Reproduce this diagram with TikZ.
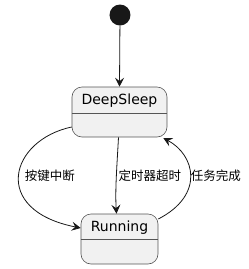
\documentclass[tikz,border=0pt]{standalone}
\usepackage{fontspec}
\setmainfont{DejaVu Sans}
\newfontfamily\cjk{Noto Sans CJK SC}
\usetikzlibrary{arrows.meta,calc}
\definecolor{boxfill}{HTML}{F1F1F1}
\definecolor{boxline}{HTML}{555555}
\definecolor{ink}{HTML}{181818}
\tikzset{
  statebox/.style={draw=boxline,fill=boxfill,rounded corners=10pt,minimum width=95pt,minimum height=50pt,inner sep=0pt,line width=0.6pt},
  runbox/.style={statebox,minimum width=77pt},
  stname/.style={font=\fontsize{14}{16}\selectfont,text=black,inner sep=0pt},
  lbl/.style={font=\cjk\fontsize{12.5}{14}\selectfont,text=black,inner sep=0pt},
  tr/.style={draw=ink,line width=0.8pt,-{Stealth[length=9pt,width=9pt,inset=3.5pt]}}
}
\begin{document}
\begin{tikzpicture}[x=1pt,y=-1pt]
\useasboundingbox (0,0) rectangle (249,269);
\node[circle,fill=ink,minimum size=21pt,inner sep=0pt] (init) at (120,15) {};
\node[statebox] (ds) at (119.5,112) {};
\draw[boxline,line width=0.6pt] ($(ds.west)+(0,1)$) -- ($(ds.east)+(0,1)$);
\node[stname] (dst) at (119.5,101) {DeepSleep};
\node[runbox] (run) at (119.5,239) {};
\draw[boxline,line width=0.6pt] ($(run.west)+(0,0)$) -- ($(run.east)+(0,0)$);
\node[stname] (runt) at (119.5,228) {Running};
\draw[tr] (init) -- (ds.north);
\coordinate (a1) at ($(ds.west)+(0,15)$);
\coordinate (a2) at ($(run.west)+(0,-11)$);
\draw[tr] (a1) .. controls (10,140) and (-10,210) .. (a2);
\coordinate (b1) at ($(ds.south)+(-1,0)$);
\coordinate (b2) at ($(run.north)+(-3,0)$);
\draw[tr] (b1) .. controls (117,165) and (115,190) .. (b2);
\coordinate (c1) at ($(run.east)+(0,-20)$);
\coordinate (c2) at ($(ds.east)+(-4,26)$);
\draw[tr] (c1) .. controls (205,195) and (195,155) .. (c2);
\node[lbl] (l1) at (50,176) {按键中断};
\node[lbl] (l2) at (150,176) {定时器超时};
\node[lbl] (l3) at (216,176) {任务完成};
\end{tikzpicture}
\end{document}
